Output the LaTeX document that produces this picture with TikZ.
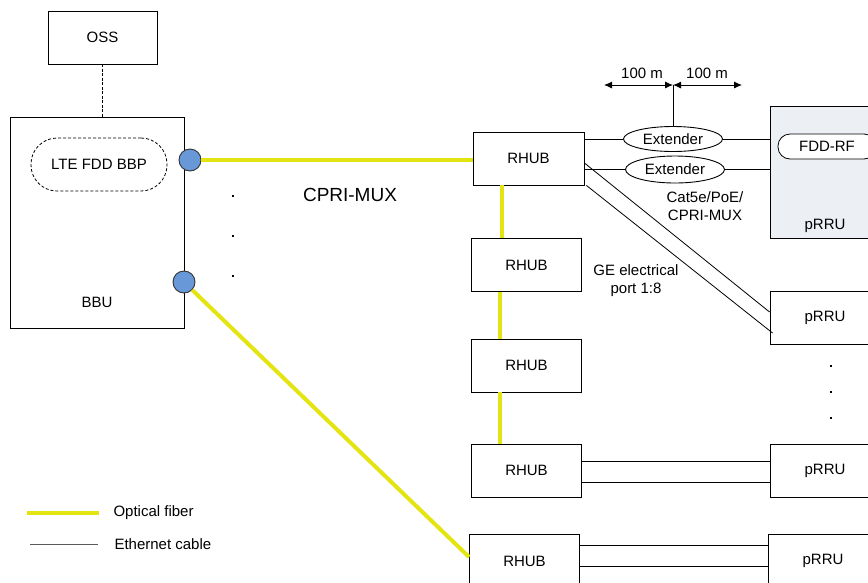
\documentclass[tikz,border=0pt]{standalone}
\usepackage{fontspec}
\setmainfont{Liberation Sans}
\usepackage{tikz}
\usetikzlibrary{arrows.meta,positioning,calc,shapes.geometric}
\definecolor{fiberyellow}{RGB}{228,228,18}
\definecolor{portblue}{RGB}{104,152,216}
\definecolor{rrugray}{RGB}{236,239,244}
\definecolor{cablegray}{RGB}{90,90,90}

\begin{document}
\begin{tikzpicture}[x=1pt, y=-1pt, >={Latex[length=8pt,width=7pt]},
 every node/.style={font=\fontsize{15}{18}\selectfont, align=center},
 box/.style={draw, line width=0.9pt, fill=white, minimum width=110pt, minimum height=53pt, inner sep=0pt},
 unit/.style={box, minimum width=174pt, minimum height=211pt},
 board/.style={draw, line width=0.8pt, rounded corners=12pt, minimum height=25pt, minimum width=98pt, inner sep=0pt},
 ext/.style={draw, ellipse, line width=0.9pt, fill=white, minimum width=99pt, minimum height=25pt, inner sep=0pt},
 port/.style={draw=black!80, circle, line width=0.9pt, fill=portblue, minimum size=22pt, inner sep=0pt},
 dotmark/.style={fill, rectangle, minimum size=2.6pt, inner sep=0pt},
 fiber/.style={draw=fiberyellow, line width=4pt},
 cable/.style={draw, line width=0.8pt}]
\useasboundingbox (0,0) rectangle (868,582);
% left side
\node[box, minimum width=109pt] (oss) at (102.5,37.5) {OSS};
\node[unit] (bbu) at (97,222.5) {};
\node at (97,302) (bbutxt) {BBU};
\node[board, dashed, dash pattern=on 3pt off 2pt, minimum width=136pt, minimum height=53pt, rounded corners=26pt] (bbp) at (99,164.5) {LTE FDD BBP};
\node[port] (c1) at (190,160) {};
\node[port] (c2) at (184,282) {};
\foreach \y/\n in {196/1,236/2,276/3}
  \node[dotmark] (ldot\n) at (233,\y) {};
\node[font=\fontsize{19}{22}\selectfont] (cpri) at (350,195) {CPRI-MUX};
% hubs
\node[box, minimum width=111pt] (r1) at (528.5,158.5) {RHUB};
\node[box] (r2) at (526.5,265) {RHUB};
\node[box] (r3) at (526.5,365.5) {RHUB};
\node[box] (r4) at (526.5,470.5) {RHUB};
\node[box] (r5) at (524.5,561) {RHUB};
% remote units
\node[box, fill=rrugray, minimum height=132pt] (p1) at (825,172) {};
\node at (825,226) (p1txt) {pRRU};
\node[board, fill=white] (rf) at (827,146.5) {FDD-RF};
\node[box] (p2) at (825,317.5) {pRRU};
\node[box] (p3) at (825,470.5) {pRRU};
\node[box] (p4) at (823,561) {pRRU};
\foreach \y/\n in {366/1,392/2,418/3}
  \node[dotmark, minimum size=2pt] (rdot\n) at (831,\y) {};
\node[ext] (e1) at (673,139) {Extender};
\node[ext, minimum height=27pt] (e2) at (675,169.5) {Extender};
\node (cat) at (705,206) {Cat5e/PoE/\\CPRI-MUX};
\node (ge) at (636,281) {GE electrical\\port 1:8};
% distance marks
\coordinate (mtop) at (673,85);
\coordinate (mleft) at (604,85);
\coordinate (mright) at (742,85);
\node (d1) at (642,73) {100 m};
\node (d2) at (707,73) {100 m};
\draw[cable] (e1.north) -- (mtop);
\draw[<->, line width=0.9pt] (mleft) -- (mtop);
\draw[<->, line width=0.9pt] (mtop) -- (mright);
% links
\draw[dashed, dash pattern=on 3pt off 1.5pt, line width=0.8pt] (oss.south) -- (oss.south |- bbu.north);
\draw[fiber] (c1) -- (c1 -| r1.west);
\draw[fiber] (c2) -- ([yshift=4pt]r5.west);
\foreach \a/\b in {r1/r2,r2/r3,r3/r4}
  \draw[fiber] ([xshift=-27pt]\a.south) -- ([xshift=-27pt]\a.south |- \b.north);
\draw[cable] (e1.west -| r1.east) -- (e1.west);
\draw[cable] (e1.east) -- (e1.east -| p1.west);
\draw[cable] (e2.west -| r1.east) -- (e2.west);
\draw[cable] (e2.east) -- (e2.east -| p1.west);
\draw[cable] ([yshift=-4.5pt]r1.east) -- ([yshift=5.5pt]p2.west);
\draw[cable] ([xshift=2pt]r1.south east) -- ($(p2.west)+(3,15.5)$);
\draw[cable] ([yshift=9.5pt]r4.east) -- ([yshift=9.5pt]p3.west);
\draw[cable] ([yshift=-11.5pt]r4.east) -- ([yshift=-11.5pt]p3.west);
\draw[cable] ([yshift=16pt]r5.east) -- ([yshift=16pt]p4.west);
\draw[cable] ([yshift=-5pt]r5.east) -- ([yshift=-5pt]p4.west);
% legend
\coordinate (lf1) at (27,513);
\coordinate (lf2) at (99,513);
\coordinate (le1) at (30,544);
\coordinate (le2) at (98,544);
\draw[fiber] (lf1) -- (lf2);
\draw[draw=cablegray, line width=0.9pt] (le1) -- (le2);
\node[anchor=west] (lftxt) at (110,513) {Optical fiber};
\node[anchor=west] (letxt) at (111,544) {Ethernet cable};
\end{tikzpicture}
\end{document}
